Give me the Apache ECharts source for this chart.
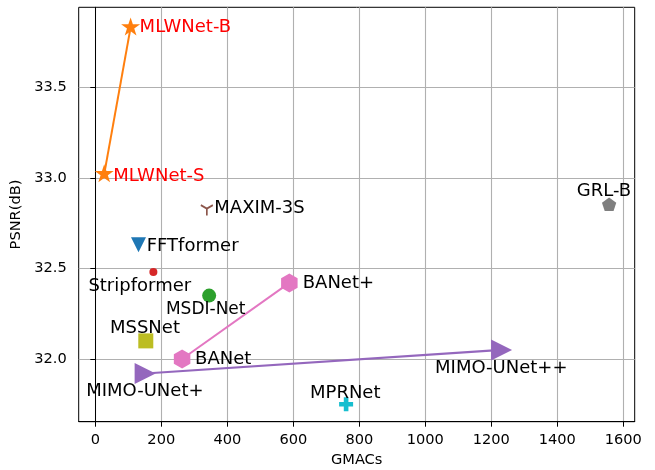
<!DOCTYPE html>
<html>
<head>
<meta charset="utf-8">
<script src="https://cdn.jsdelivr.net/npm/echarts@6/dist/echarts.min.js"></script>
<style>
html,body{margin:0;padding:0;background:#fff;}
#chart{width:655px;height:470px;}
</style>
</head>
<body>
<div id="chart"></div>
<script>
// ---- data ----
const xTicks = [0, 200, 400, 600, 800, 1000, 1200, 1400, 1600];
const yTicks = [32.0, 32.5, 33.0, 33.5];

const mlwNames = ['MLWNet-S', 'MLWNet-B'];
const mlwGMACs = [27, 107];
const mlwPSNR = [33.02, 33.83];

const baNames = ['BANet', 'BANet+'];
const baGMACs = [263, 588];
const baPSNR = [32.00, 32.42];

const mimoNames = ['MIMO-UNet+', 'MIMO-UNet++'];
const mimoGMACs = [151, 1231];
const mimoPSNR = [31.92, 32.05];

const otherNames = ['MAXIM-3S', 'FFTformer', 'Stripformer', 'MSDI-Net', 'MSSNet', 'MPRNet', 'GRL-B'];
const otherGMACs = [338, 131, 176, 345, 153, 760, 1557];
const otherPSNR = [32.83, 32.63, 32.48, 32.35, 32.10, 31.75, 32.85];

// ---- styles ----
const STAR = 'path://M0 100 M0 -100 L22.45 -30.9 L95.11 -30.9 L36.33 11.8 L58.78 80.9 L0 38.2 L-58.78 80.9 L-36.33 11.8 L-95.11 -30.9 L-22.45 -30.9 Z';
const HEX = 'path://M0 -100 L86.6 -50 L86.6 50 L0 100 L-86.6 50 L-86.6 -50 Z';
const PENT = 'path://M0 100 M0 -100 L95.1 -30.9 L58.8 80.9 L-58.8 80.9 L-95.1 -30.9 Z';
const TRI_DOWN = 'path://M-100 -100 L100 -100 L0 100 Z';
const TRI_RIGHT = 'path://M-100 -100 L100 0 L-100 100 Z';
const PLUS = 'path://M-33 -100 L33 -100 L33 -33 L100 -33 L100 33 L33 33 L33 100 L-33 100 L-33 33 L-100 33 L-100 -33 L-33 -33 Z';
const Y_MARK = 'path://M0 -100 M0 0 L0 100 M0 0 L-86.6 -50 M0 0 L86.6 -50';

const styles = {
  'MLWNet-S':   {symbol: STAR, size: [19, 20], color: '#ff7f0e', text: '#ff0000', offset: [9, 2]},
  'MLWNet-B':   {symbol: STAR, size: [19, 20], color: '#ff7f0e', text: '#ff0000', offset: [9, 0]},
  'BANet':      {symbol: HEX, size: [16.5, 19], color: '#e377c2', text: '#000', offset: [13, 0.6]},
  'BANet+':     {symbol: HEX, size: [16.5, 19], color: '#e377c2', text: '#000', offset: [13.4, 0]},
  'MIMO-UNet+': {symbol: TRI_RIGHT, size: [21, 21], color: '#9467bd', text: '#000', offset: [-59, 18.3]},
  'MIMO-UNet++':{symbol: TRI_RIGHT, size: [21, 21], color: '#9467bd', text: '#000', offset: [-66.5, 18]},
  'MAXIM-3S':   {symbol: Y_MARK, size: [12, 14], color: 'none', stroke: '#8c564b', text: '#000', offset: [7.5, 0]},
  'FFTformer':  {symbol: TRI_DOWN, size: [15, 15], color: '#1f77b4', text: '#000', offset: [8.2, 1]},
  'Stripformer':{symbol: 'circle', size: 8, color: '#d62728', text: '#000', offset: [-65, 14.4]},
  'MSDI-Net':   {symbol: 'circle', size: 14, color: '#2ca02c', text: '#000', offset: [-43.2, 13.7], fontSize: 17},
  'MSSNet':     {symbol: 'rect', size: 15, color: '#bcbd22', text: '#000', offset: [-35.8, -12.6]},
  'MPRNet':     {symbol: PLUS, size: 14, color: '#17becf', text: '#000', offset: [-36.1, -11]},
  'GRL-B':      {symbol: PENT, size: [14.3, 15], color: '#7f7f7f', text: '#000', offset: [-5.2, -13.9], align: 'center'}
};
const lineColors = {mlw: '#ff7f0e', ba: '#e377c2', mimo: '#9467bd'};

const FONT = 'DejaVu Sans';

function item(name, x, y) {
  const s = styles[name];
  return {
    value: [x, y],
    name: name,
    symbol: s.symbol,
    symbolSize: s.size,
    itemStyle: s.stroke ? {color: 'none', borderColor: s.stroke, borderWidth: 1.8, opacity: 1} : {color: s.color, opacity: 1},
    label: {
      show: true,
      position: 'inside',
      offset: s.offset,
      align: s.align || 'left',
      verticalAlign: 'middle',
      formatter: name,
      color: s.text,
      opacity: 1,
      fontSize: s.fontSize || 18,
      fontFamily: FONT
    }
  };
}

function pairSeries(names, xs, ys, color, width) {
  return {
    type: 'line',
    data: names.map((n, i) => item(n, xs[i], ys[i])),
    lineStyle: {color: color, width: width},
    z: 3
  };
}

const series = [
  pairSeries(mlwNames, mlwGMACs, mlwPSNR, lineColors.mlw, 2),
  pairSeries(baNames, baGMACs, baPSNR, lineColors.ba, 2),
  pairSeries(mimoNames, mimoGMACs, mimoPSNR, lineColors.mimo, 2.2)
];
otherNames.forEach((n, i) => {
  series.push({type: 'scatter', itemStyle: {opacity: 1}, data: [item(n, otherGMACs[i], otherPSNR[i])], z: 4});
});

const chart = echarts.init(document.getElementById('chart'), null, {renderer: 'canvas'});
chart.setOption({
  animation: false,
  backgroundColor: '#fff',
  textStyle: {fontFamily: FONT},
  grid: {
    left: 78.7, right: 20.3, top: 7.3, bottom: 48.3,
    containLabel: false, outerBoundsMode: 'none',
    show: true, borderColor: '#000', borderWidth: 1, backgroundColor: '#fff'
  },
  xAxis: {
    type: 'value',
    min: -50.3, max: 1634.5,
    minInterval: 200, maxInterval: 200,
    name: 'GMACs', nameLocation: 'middle', nameGap: 31,
    nameTextStyle: {color: '#000', fontSize: 14.6, fontFamily: FONT},
    axisLine: {show: true, lineStyle: {color: '#000', width: 1}},
    axisTick: {show: true, customValues: xTicks, length: 5, inside: false, lineStyle: {color: '#000', width: 1}},
    axisLabel: {customValues: xTicks, margin: 11, color: '#000', fontSize: 14.6, fontFamily: FONT,
      formatter: v => String(v)},
    splitLine: {show: true, lineStyle: {color: '#b0b0b0', width: 1.1}}
  },
  yAxis: {
    type: 'value',
    min: 31.654, max: 33.941,
    minInterval: 0.5, maxInterval: 0.5,
    name: 'PSNR(dB)', nameLocation: 'middle', nameGap: 47, nameRotate: 90,
    nameTextStyle: {color: '#000', fontSize: 14.6, fontFamily: FONT},
    axisLine: {show: true, lineStyle: {color: '#000', width: 1}},
    axisTick: {show: true, customValues: yTicks, length: 5, inside: false, lineStyle: {color: '#000', width: 1}},
    axisLabel: {customValues: yTicks, margin: 12, color: '#000', fontSize: 14.6, fontFamily: FONT,
      formatter: v => Number(v).toFixed(1)},
    splitLine: {show: true, lineStyle: {color: '#b0b0b0', width: 1.1}}
  },
  series: series
});
</script>
</body>
</html>
